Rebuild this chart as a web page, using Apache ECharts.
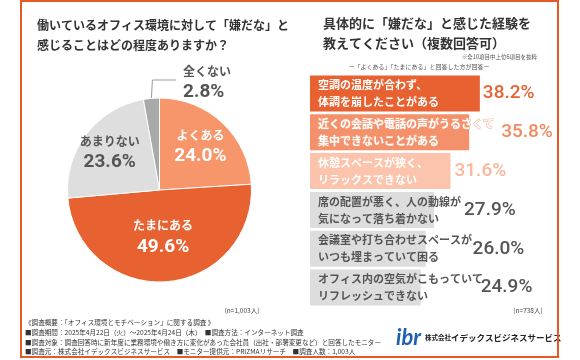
<!DOCTYPE html>
<html><head><meta charset="utf-8">
<script src="https://cdn.jsdelivr.net/npm/echarts@6/dist/echarts.min.js"></script>
<style>html,body{margin:0;padding:0;background:#fff}#c{width:580px;height:360px}</style>
</head><body><div id="c"></div>
<script>
// ---- data ----
var pieNames = ['よくある', 'たまにある', 'あまりない', '全くない'];
var pieValues = [24.0, 49.6, 23.6, 2.8];
var barCategories = [
  '空調の温度が合わず、\n体調を崩したことがある',
  '近くの会話や電話の声がうるさくて\n集中できないことがある',
  '休憩スペースが狭く、\nリラックスできない',
  '席の配置が悪く、人の動線が\n気になって落ち着かない',
  '会議室や打ち合わせスペースが\nいつも埋まっていて困る',
  'オフィス内の空気がこもっていて\nリフレッシュできない'
];
var barValues = [38.2, 35.8, 31.6, 27.9, 26.0, 24.9];

// ---- styles ----
var FONT = '"Noto Sans CJK JP", "Noto Sans", sans-serif';
var NUMFONT = 'Roboto, "Noto Sans", sans-serif';
var pieColors = ['#F7956B', '#E86131', '#DEDEDE', '#A9A9A9'];
var pieTextColors = ['#fff', '#fff', '#555', '#555'];
var pieLabelScale = [1.22, 0.96, 1.28, 1];
var barColors = ['#E86131', '#F4916A', '#FCC4AC', '#DDDDDD', '#DDDDDD', '#DDDDDD'];
var barTextColors = ['#fff', '#fff', '#fff', '#555', '#555', '#555'];
var valueColors = ['#E86131', '#F08A62', '#F9B69A', '#555', '#555', '#555'];
var valueDistance = [3, 32, 4, 30, 47, 60];
var PCX = 159.5, PCY = 190, PR = 92;

var chart = echarts.init(document.getElementById('c'), null, {renderer: 'canvas'});

var pieData = pieNames.map(function (n, i) {
  var d = {name: n, value: pieValues[i], itemStyle: {color: pieColors[i]},
    label: {rich: {n: {color: pieTextColors[i]}, v: {color: pieTextColors[i]}}}};
  if (i === 3) {
    d.label.position = 'outside';
    d.labelLine = {show: true, length: 12, length2: 10, lineStyle: {color: '#999', width: 1}};
  }
  return d;
});

var barData = barValues.map(function (v, i) {
  return {value: v, itemStyle: {color: barColors[i]},
    label: {color: barTextColors[i],
      textBorderColor: i === 1 ? '#F6A888' : 'transparent', textBorderWidth: i === 1 ? 1 : 0}};
});
var valData = barValues.map(function (v, i) {
  return {value: v, label: {color: valueColors[i], distance: valueDistance[i]}};
});

var option = {
  animation: false,
  grid: {left: 310, top: 74, width: 249, height: 233},
  xAxis: {type: 'value', min: 0, max: 56, show: false},
  yAxis: {type: 'category', data: barCategories, inverse: true, show: false},
  series: [
    {
      type: 'pie', center: [PCX, PCY], radius: [0, PR], startAngle: 90, clockwise: true,
      data: pieData,
      itemStyle: {borderColor: '#fff', borderWidth: 1},
      label: {
        show: true, position: 'inside',
        formatter: function (p) { return '{n|' + p.name + '}\n{v|' + p.value.toFixed(1) + '%}'; },
        rich: {
          n: {fontFamily: FONT, fontSize: 12, fontWeight: 'bold', lineHeight: 20},
          v: {fontFamily: NUMFONT, fontSize: 19, fontWeight: 'bold', lineHeight: 22}
        }
      },
      labelLayout: function (p) {
        var i = p.dataIndex;
        var r = p.labelRect;
        if (i === 3) {
          var p0 = p.labelLinePoints ? p.labelLinePoints[0] : [152, 98];
          return {x: 183, y: 82, align: 'left', verticalAlign: 'middle',
            labelLinePoints: [p0, [p0[0] + 1, 80], [176, 80]]};
        }
        var cx = r.x + r.width / 2, cy = r.y + r.height / 2;
        var k = pieLabelScale[i];
        return {dx: (cx - PCX) * (k - 1), dy: (cy - PCY) * (k - 1)};
      }
    },
    {
      type: 'bar', data: barData, barWidth: 36, z: 3,
      label: {
        show: true, position: 'insideLeft', distance: 8,
        formatter: function (p) { return p.name; },
        fontFamily: FONT, fontSize: 11, fontWeight: 'bold', lineHeight: 17
      }
    },
    {
      type: 'bar', data: valData, barWidth: 36, barGap: '-100%', z: 2,
      itemStyle: {color: 'rgba(0,0,0,0)'},
      label: {
        show: true, position: 'right',
        formatter: function (p) { return p.value.toFixed(1) + '%'; },
        fontFamily: NUMFONT, fontSize: 19, fontWeight: 500
      }
    }
  ],
  graphic: [
    {type: 'rect', shape: {x: 21, y: 1, width: 537, height: 356}, style: {fill: 'none', stroke: '#E85A24', lineWidth: 2}, z: 100},
    {type: 'text', left: 37, top: 15, style: {text: '働いているオフィス環境に対して「嫌だな」と\n感じることはどの程度ありますか？', fontFamily: FONT, fontSize: 12, fontWeight: 'bold', fill: '#333', lineHeight: 20}},
    {type: 'text', left: 323, top: 13, style: {text: '具体的に「嫌だな」と感じた経験を\n教えてください（複数回答可）', fontFamily: FONT, fontSize: 13, fontWeight: 'bold', fill: '#333', lineHeight: 20}},
    {type: 'text', x: 537, y: 57, style: {text: '※全10項目中上位6項目を抜粋', fontFamily: FONT, fontSize: 5.5, fill: '#555', align: 'right', verticalAlign: 'middle'}},
    {type: 'text', x: 419, y: 67, style: {text: 'ー「よくある」「たまにある」と回答した方が回答ー', fontFamily: FONT, fontSize: 6, fill: '#555', align: 'center', verticalAlign: 'middle'}},
    {type: 'text', x: 242, y: 311, style: {text: '(n=1,003人)', fontFamily: FONT, fontSize: 6.5, fill: '#444', align: 'center', verticalAlign: 'middle'}},
    {type: 'text', x: 528, y: 311, style: {text: '(n=738人)', fontFamily: FONT, fontSize: 6.5, fill: '#444', align: 'center', verticalAlign: 'middle'}},
    {type: 'text', x: 25, y: 322, style: {text: '《調査概要：「オフィス環境とモチベーション」に関する調査 》', fontFamily: FONT, fontSize: 6.6, fill: '#333', verticalAlign: 'middle'}},
    {type: 'text', x: 25, y: 332, style: {text: '■調査期間：2025年4月22日（火）～2025年4月24日（木）　■調査方法：インターネット調査', fontFamily: FONT, fontSize: 6.6, fill: '#333', verticalAlign: 'middle'}},
    {type: 'text', x: 25, y: 342, style: {text: '■調査対象：調査回答時に新年度に業務環境や働き方に変化があった会社員（出社・部署変更など）と回答したモニター', fontFamily: FONT, fontSize: 6.6, fill: '#333', verticalAlign: 'middle'}},
    {type: 'text', x: 25, y: 351, style: {text: '■調査元：株式会社イデックスビジネスサービス　■モニター提供元：PRIZMAリサーチ　■調査人数：1,003人', fontFamily: FONT, fontSize: 6.6, fill: '#333', verticalAlign: 'middle'}},
    {type: 'text', x: 396, y: 338, style: {text: 'ibr', fontFamily: 'Lato, sans-serif', fontSize: 22, fontWeight: 'bold', fontStyle: 'italic', fill: '#1F5FB0', verticalAlign: 'middle'}},
    {type: 'text', x: 425, y: 338, style: {text: '{a|株式会社}{b|イデックスビジネスサービス}', verticalAlign: 'middle',
      rich: {a: {fontFamily: FONT, fontSize: 6.5, fontWeight: 'bold', fill: '#222'}, b: {fontFamily: FONT, fontSize: 8.5, fontWeight: 'bold', fill: '#222'}}}}
  ]
};
chart.setOption(option);
</script>
</body></html>
